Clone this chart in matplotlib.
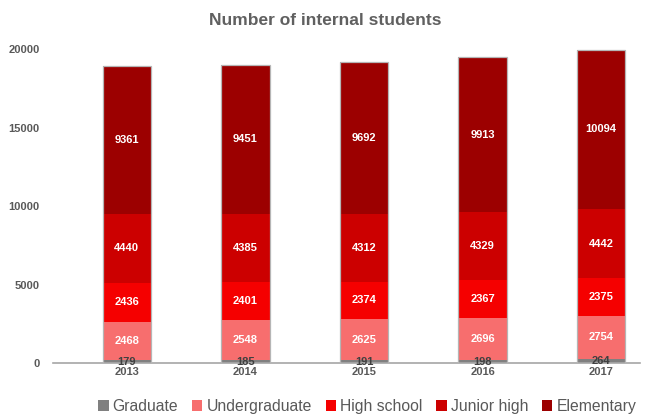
import matplotlib.pyplot as plt
import numpy as np

years = ["2013", "2014", "2015", "2016", "2017"]
categories = ["Graduate", "Undergraduate", "High school", "Junior high", "Elementary"]
graduate = [179, 185, 191, 198, 264]
undergraduate = [2468, 2548, 2625, 2696, 2754]
high_school = [2436, 2401, 2374, 2367, 2375]
junior_high = [4440, 4385, 4312, 4329, 4442]
elementary = [9361, 9451, 9692, 9913, 10094]

series = [graduate, undergraduate, high_school, junior_high, elementary]
colors = ["#808080", "#f76e6e", "#f50000", "#cc0000", "#9c0000"]
label_colors = ["#404040", "white", "white", "white", "white"]

plt.rcParams['font.family'] = ['Liberation Sans', 'DejaVu Sans']

fig = plt.figure(figsize=(6.5, 4.15), dpi=100)
ax = fig.add_axes([0.082, 0.125, 0.903, 0.757])

x = np.arange(len(years))
bottom = np.zeros(len(years))
for vals, col, lc, name in zip(series, colors, label_colors, categories):
    vals = np.array(vals, dtype=float)
    ax.bar(x, vals, 0.41, bottom=bottom, color=col, edgecolor="none",
           label=name, zorder=2)
    for xi, b, v in zip(x, bottom, vals):
        ax.text(xi, b + v / 2, str(int(v)), ha="center", va="center",
                color=lc, fontsize=8, fontweight="bold", zorder=4)
    bottom += vals

# thin grey outline around each whole bar
ax.bar(x, bottom, 0.41, facecolor="none", edgecolor="#b5b5b5", linewidth=0.9, zorder=3)

ax.set_xlim(-0.62, 4.33)
ax.set_ylim(0, 20000)
ax.set_xticks(x)
ax.set_xticklabels(years)
ax.set_yticks([0, 5000, 10000, 15000, 20000])
for side in ["top", "right", "left"]:
    ax.spines[side].set_visible(False)
ax.spines["bottom"].set_color("#a6a6a6")
ax.spines["bottom"].set_linewidth(1.2)
ax.tick_params(axis="both", length=0, labelsize=8, labelcolor="#595959")
ax.tick_params(axis="x", pad=3)
ax.tick_params(axis="y", pad=10)
for t in ax.get_xticklabels() + ax.get_yticklabels():
    t.set_fontweight("bold")

fig.text(0.5, 0.95, "Number of internal students", ha="center", va="center",
         fontsize=12.5, fontweight="bold", color="#606060")

leg = fig.legend(loc="center", bbox_to_anchor=(0.565, 0.02), ncol=5, frameon=False,
                 fontsize=11.3, handlelength=0.65, handleheight=0.65, handletextpad=0.25,
                 columnspacing=0.9, borderpad=0.1)
for t in leg.get_texts():
    t.set_color("#595959")
for h in leg.legend_handles:
    h.set_edgecolor("none")

fig.savefig("out.png", dpi=100)
